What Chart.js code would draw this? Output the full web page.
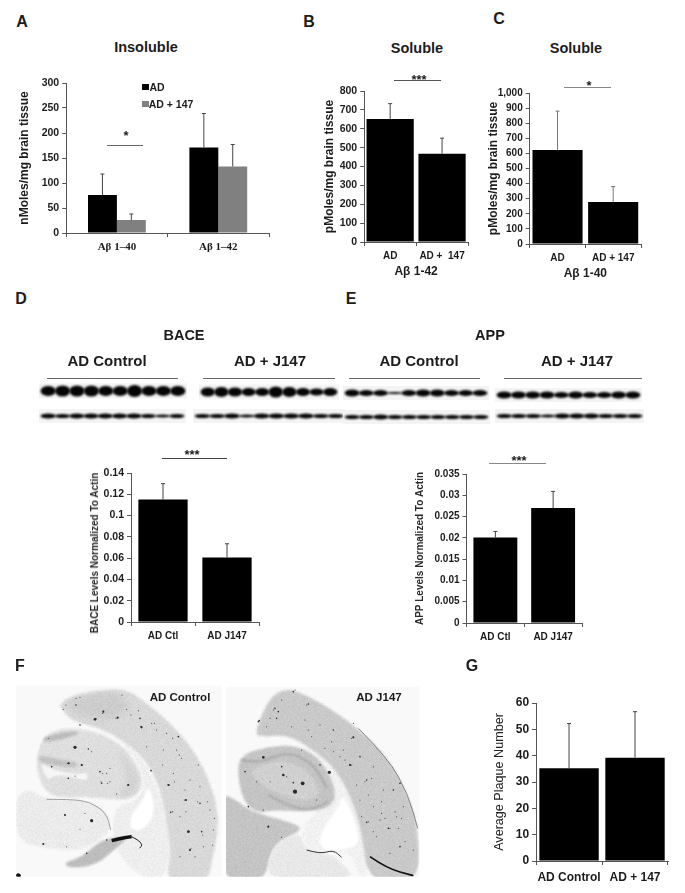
<!DOCTYPE html>
<html>
<head>
<meta charset="utf-8">
<title>J147 figure</title>
<script src="https://cdn.jsdelivr.net/npm/chart.js@4"></script>
<style>
  html, body { margin: 0; padding: 0; background: #fff; }
  #page { position: relative; width: 685px; height: 893px; overflow: hidden; font-family: "Liberation Sans", Arial, sans-serif; color: #1c1c1c; }
  canvas { position: absolute; }
  .lbl { position: absolute; white-space: nowrap; font-weight: bold; line-height: 1; }
  .rule { position: absolute; height: 1px; background: #666; }
</style>
</head>
<body>
<div id="page">
  <canvas id="blots" width="685" height="110" style="left:0;top:340px"></canvas>
  <canvas id="brains" width="440" height="243" style="left:0;top:650px"></canvas>
  <canvas id="chartA"></canvas>
  <canvas id="chartB"></canvas>
  <canvas id="chartC"></canvas>
  <canvas id="chartD"></canvas>
  <canvas id="chartE"></canvas>
  <canvas id="chartG"></canvas>
</div>
<script>
// panel A
const catsA = ["Aβ 1–40", "Aβ 1–42"];
const adA = [76, 171];
const adTopA = [118, 239];
const j147A = [26, 133];
const j147TopA = [38, 177];
const ticksA = ["0", "50", "100", "150", "200", "250", "300"];
// panel B
const catsB = ["AD", "AD +  147"];
const valsB = [652, 468];
const topsB = [733, 550];
const ticksB = ["0", "100", "200", "300", "400", "500", "600", "700", "800"];
// panel C
const catsC = ["AD", "AD + 147"];
const valsC = [622, 278];
const topsC = [880, 380];
const ticksC = ["0", "100", "200", "300", "400", "500", "600", "700", "800", "900", "1,000"];
// panel D
const catsD = ["AD Ctl", "AD J147"];
const valsD = [0.115, 0.0605];
const topsD = [0.13, 0.0735];
const ticksD = ["0", "0.02", "0.04", "0.06", "0.08", "0.1", "0.12", "0.14"];
// panel E
const catsE = ["AD Ctl", "AD J147"];
const valsE = [0.0201, 0.027];
const topsE = [0.0215, 0.0309];
const ticksE = ["0", "0.005", "0.01", "0.015", "0.02", "0.025", "0.03", "0.035"];
// panel G
const catsG = ["AD Control", "AD + 147"];
const valsG = [35.2, 39.2];
const topsG = [52.2, 56.7];
const ticksG = ["0", "10", "20", "30", "40", "50", "60"];

// blot band heights per lane, left to right
const bandsDtop1 = [10, 11, 11, 11, 10, 10, 12, 10, 10, 10];
const bandsDtop2 = [9, 10, 9, 8, 8, 11, 10, 8, 7, 8];
const bandsDlow1 = [5, 4, 5, 5, 5, 5, 5, 4, 3, 4];
const bandsDlow2 = [4, 4, 5, 3, 5, 5, 5, 5, 4, 4];
const bandsEtop1 = [7, 6, 6, 2, 6, 7, 7, 6, 6, 6];
const bandsEtop2 = [7, 7, 7, 7, 6, 7, 6, 6, 7, 7];
const bandsElow1 = [4, 4, 5, 4, 4, 4, 4, 4, 4, 4];
const bandsElow2 = [4, 4, 4, 3, 5, 5, 5, 4, 4, 4];

// plaques on the two brain sections, in 3x crop units
const plaques1 = [[285,208,5],[353,203,4],[228,165,3],[240,142,2],[366,135,2],[310,185,4],[190,178,2],[240,225,3],[420,205,3],[425,232,4],[380,178,2],[415,182,2],[470,240,2],[500,250,2],[535,260,3],[455,220,2],[225,292,6],[265,297,3],[275,305,2],[145,265,2],[205,340,4],[245,345,4],[155,350,3],[205,385,3],[225,378,2],[300,365,3],[320,370,2],[305,400,3],[330,395,2],[385,405,4],[350,432,2],[330,355,2],[453,362,3],[505,405,4],[512,487,3],[558,450,4],[600,460,3],[565,545,5],[570,600,4],[605,545,3],[630,480,2],[570,390,2],[595,345,2],[545,325,2],[520,370,2],[530,300,2],[490,300,2],[440,290,2],[640,540,2],[610,590,2],[540,500,2],[195,495,4],[275,512,6],[255,490,2],[240,538,2],[130,582,4],[200,590,2],[320,570,3],[260,610,3],[585,620,2],[540,620,2],[600,410,2],[555,420,2],[198,165,2],[228,145,2],[288,205,2],[308,190,2],[348,205,2],[423,230,3],[463,220,2],[393,195,2],[518,265,2],[538,315,2],[488,345,2],[523,395,2],[553,450,2],[508,405,2],[593,455,2],[623,455,2],[568,545,2],[573,595,2],[608,555,2],[643,505,2],[518,485,2],[558,485,2],[638,585,2],[223,290,2],[208,340,2],[248,345,2],[308,370,2],[303,395,2],[323,400,2],[383,405,2]];
const plaques2 = [[880,125,3],[925,162,3],[830,205,3],[800,230,2],[778,212,3],[820,180,2],[1060,220,2],[1060,262,4],[1000,240,3],[915,210,2],[960,225,2],[1030,300,2],[1080,320,3],[1050,345,4],[1000,305,2],[1100,390,3],[1120,350,2],[1150,420,2],[1180,420,3],[1200,400,3],[1100,517,3],[1120,470,2],[1165,535,3],[1190,500,2],[1200,590,3],[1170,610,2],[1240,600,2],[1210,470,2],[1130,560,2],[1080,450,2],[988,367,6],[960,345,3],[905,300,2],[850,375,5],[908,400,7],[885,425,8],[880,398,3],[845,350,3],[790,322,5],[735,365,3],[770,395,2],[810,395,2],[745,470,3],[805,530,4],[845,562,2],[860,380,2],[950,450,2],[790,480,2],[1085,500,2],[1145,490,2],[975,295,2],[995,275,2],[1035,330,2],[1020,320,2],[1055,345,2],[1055,265,2],[1095,395,2],[1070,405,2],[1115,385,2],[1105,515,2],[1140,510,2],[1170,535,2],[1155,505,2],[1185,485,2],[1205,505,2],[1145,455,2],[1195,535,2],[1215,575,2],[1120,545,2],[1105,435,2],[925,240,2],[935,260,2],[875,230,2],[845,150,2],[885,120,2],[920,165,2],[825,175,3],[835,185,3],[810,205,2],[775,215,3]];

const page = document.getElementById("page");

function addText(text, x, y, size, opts) {
  opts = opts || {};
  const el = document.createElement("span");
  el.className = "lbl";
  el.textContent = text;
  el.style.left = x + "px";
  el.style.top = y + "px";
  el.style.fontSize = size + "px";
  if (opts.weight) el.style.fontWeight = opts.weight;
  if (opts.color) el.style.color = opts.color;
  el.style.transform = "translate(-50%,-50%)" + (opts.rotate ? " rotate(" + opts.rotate + "deg)" : "");
  page.appendChild(el);
}

function addRule(x1, x2, y, color) {
  const el = document.createElement("div");
  el.className = "rule";
  el.style.left = x1 + "px";
  el.style.width = x2 - x1 + "px";
  el.style.top = y + "px";
  if (color) el.style.background = color;
  page.appendChild(el);
}

// whiskers go from the bar top up to the value in dataset.tops
const errorBars = {
  id: "errorBars",
  afterDatasetsDraw(chart) {
    const ctx = chart.ctx;
    chart.data.datasets.forEach((ds, i) => {
      chart.getDatasetMeta(i).data.forEach((bar, j) => {
        const yTop = chart.scales.y.getPixelForValue(ds.tops[j]);
        ctx.save();
        ctx.strokeStyle = ds.whisker || "#444";
        ctx.lineWidth = 1;
        ctx.beginPath();
        ctx.moveTo(bar.x, bar.y);
        ctx.lineTo(bar.x, yTop);
        ctx.moveTo(bar.x - 2, yTop);
        ctx.lineTo(bar.x + 2, yTop);
        ctx.stroke();
        ctx.restore();
      });
    });
  },
};

function barChart(id, c) {
  const lh = c.titleSize * 1.2;
  const left = c.titleX - lh / 2;
  const top = c.plot.top - 12;
  const right = c.plot.right + 12;
  const el = document.getElementById(id);
  el.style.left = left + "px";
  el.style.top = top + "px";
  el.width = right - left;
  el.height = c.plot.bottom + c.xHeight - top;
  return new Chart(el, {
    type: "bar",
    data: { labels: c.labels, datasets: c.datasets },
    plugins: [errorBars],
    options: {
      responsive: false,
      animation: false,
      layout: { padding: { top: 12, right: 12, left: 0, bottom: 0 } },
      plugins: { legend: { display: false }, tooltip: { enabled: false } },
      scales: {
        x: {
          offset: true,
          grid: { drawOnChartArea: false, tickLength: 4, color: "#555", offset: true },
          border: { color: "#555" },
          ticks: { color: "#1c1c1c", font: c.xFont, padding: c.xPad, maxRotation: 0, autoSkip: false },
          title: c.xTitle
            ? { display: true, text: c.xTitle, color: "#1c1c1c", font: { size: 12, weight: "bold", family: "Liberation Sans" }, padding: 0 }
            : { display: false },
          afterFit(s) { s.height = c.xHeight; },
        },
        y: {
          min: c.min,
          max: c.max,
          grid: { drawOnChartArea: false, tickLength: 4, color: "#555" },
          border: { color: "#555" },
          ticks: {
            stepSize: c.step,
            color: "#1c1c1c",
            padding: 3,
            autoSkip: false,
            font: { size: c.tickSize, weight: "bold", family: "Liberation Sans" },
            callback: (v, i) => c.ticks[i],
          },
          title: c.title
            ? { display: true, text: c.title, color: c.titleColor || "#1c1c1c", font: { size: c.titleSize, weight: c.titleWeight || "bold", family: "Liberation Sans" }, padding: 0 }
            : { display: false },
          afterFit(s) { s.width = c.plot.left - left; },
        },
      },
    },
  });
}

const boldFont = (s) => ({ size: s, weight: "bold", family: "Liberation Sans" });

barChart("chartA", {
  plot: { left: 66, right: 269, top: 83, bottom: 233.5 }, xHeight: 26, xPad: 4,
  titleX: 24, titleSize: 12, title: "nMoles/mg brain tissue",
  labels: catsA, xFont: { size: 11, weight: "bold", family: "Liberation Serif" },
  min: 0, max: 300, step: 50, ticks: ticksA, tickSize: 10.5,
  datasets: [
    { label: "AD", data: adA, tops: adTopA, backgroundColor: "#000", barPercentage: 1, categoryPercentage: 0.57 },
    { label: "AD + 147", data: j147A, tops: j147TopA, backgroundColor: "#808080", barPercentage: 1, categoryPercentage: 0.57 },
  ],
});

barChart("chartB", {
  plot: { left: 364, right: 468, top: 90.5, bottom: 241.5 }, xHeight: 37, xPad: 4, xTitle: "Aβ 1-42",
  titleX: 329, titleSize: 12, title: "pMoles/mg brain tissue",
  labels: catsB, xFont: boldFont(10),
  min: 0, max: 800, step: 100, ticks: ticksB, tickSize: 10.5,
  datasets: [{ data: valsB, tops: topsB, backgroundColor: "#000", barPercentage: 1, categoryPercentage: 0.91 }],
});

barChart("chartC", {
  plot: { left: 529.5, right: 641.5, top: 92.5, bottom: 243.5 }, xHeight: 37, xPad: 4, xTitle: "Aβ 1-40",
  titleX: 493, titleSize: 12, title: "pMoles/mg brain tissue",
  labels: catsC, xFont: boldFont(10),
  min: 0, max: 1000, step: 100, ticks: ticksC, tickSize: 10,
  datasets: [{ data: valsC, tops: topsC, whisker: "#777", backgroundColor: "#000", barPercentage: 1, categoryPercentage: 0.9 }],
});

barChart("chartD", {
  plot: { left: 131, right: 259, top: 473, bottom: 622 }, xHeight: 24, xPad: 4,
  titleX: 95, titleSize: 10,
  labels: catsD, xFont: boldFont(10),
  min: 0, max: 0.14, step: 0.02, ticks: ticksD, tickSize: 10.5,
  datasets: [{ data: valsD, tops: topsD, backgroundColor: "#000", barPercentage: 1, categoryPercentage: 0.77 }],
});
addText("BACE Levels Normalized To Actin", 95, 553, 10, { rotate: -90, color: "#2a2a2a" });

barChart("chartE", {
  plot: { left: 466.5, right: 582, top: 473.5, bottom: 622.5 }, xHeight: 24, xPad: 4,
  titleX: 420, titleSize: 10, title: "APP Levels Normalized To Actin", titleColor: "#2a2a2a",
  labels: catsE, xFont: boldFont(10),
  min: 0, max: 0.035, step: 0.005, ticks: ticksE, tickSize: 10,
  datasets: [{ data: valsE, tops: topsE, backgroundColor: "#000", barPercentage: 1, categoryPercentage: 0.76 }],
});

barChart("chartG", {
  plot: { left: 536, right: 668, top: 702.5, bottom: 860.5 }, xHeight: 27, xPad: 5,
  titleX: 499.5, titleSize: 12.6, title: "Average Plaque Number", titleWeight: "normal", titleColor: "#222",
  labels: catsG, xFont: boldFont(12),
  min: 0, max: 60, step: 10, ticks: ticksG, tickSize: 12,
  datasets: [{ data: valsG, tops: topsG, backgroundColor: "#000", barPercentage: 1, categoryPercentage: 0.9 }],
});

// panel letters
addText("A", 22, 22, 16);
addText("B", 309, 22, 16);
addText("C", 499, 19, 16);
addText("D", 21, 299, 16);
addText("E", 351, 299, 16);
addText("F", 20, 666, 16);
addText("G", 472, 666, 16);

// titles
addText("Insoluble", 146, 47, 14.5);
addText("Soluble", 417, 48, 14.5);
addText("Soluble", 576, 48, 14.5);
addText("BACE", 184, 335, 14.5);
addText("APP", 490, 335, 14.5);
addText("AD Control", 107, 360, 15);
addText("AD + J147", 270, 360, 15);
addText("AD Control", 419, 360, 15);
addText("AD + J147", 577, 360, 15);
addText("AD Control", 180, 698, 11.5);
addText("AD J147", 379, 698, 11.5);

// legend of panel A
const swatch = (x, y, color) => {
  const el = document.createElement("div");
  el.style.cssText = "position:absolute;width:7px;height:6px;left:" + x + "px;top:" + y + "px;background:" + color;
  page.appendChild(el);
};
swatch(142, 84, "#000");
swatch(142, 101, "#808080");
addText("AD", 157, 87, 10.5);
addText("AD + 147", 171, 104, 10.5);

// significance marks
addRule(107, 143, 145);
addText("*", 126, 135, 13);
addRule(394, 441, 80, "#555");
addText("***", 419, 79, 13);
addRule(564, 611, 87, "#888");
addText("*", 589, 85, 13);
addRule(162, 227, 458, "#444");
addText("***", 192, 454, 13);
addRule(489, 546, 463, "#888");
addText("***", 519, 460, 13);

// rules over the blots
addRule(47, 178, 378);
addRule(203, 335, 378);
addRule(349, 480, 378);
addRule(504, 642, 378);

// western blots, page coordinates minus canvas top
function blot(ctx, x0, x1, y, bands, boxH) {
  ctx.filter = "none";
  ctx.fillStyle = "#f4f4f4";
  ctx.fillRect(x0 - 2, y - 340 - boxH / 2, x1 - x0 + 4, boxH);
  ctx.filter = "blur(0.9px)";
  ctx.fillStyle = "#050505";
  const w = (x1 - x0) / bands.length;
  bands.forEach((h, i) => {
    ctx.beginPath();
    ctx.ellipse(x0 + w * (i + 0.5), y - 340, w * 0.53, h / 2, 0, 0, Math.PI * 2);
    ctx.fill();
  });
  ctx.filter = "none";
}
const bctx = document.getElementById("blots").getContext("2d");
blot(bctx, 41, 185, 391, bandsDtop1, 15);
blot(bctx, 201, 337, 392, bandsDtop2, 15);
blot(bctx, 41, 184, 416, bandsDlow1, 14);
blot(bctx, 195, 343, 416, bandsDlow2, 14);
blot(bctx, 345, 487, 393, bandsEtop1, 14);
blot(bctx, 497, 640, 395, bandsEtop2, 14);
blot(bctx, 345, 488, 417, bandsElow1, 14);
blot(bctx, 497, 642, 416, bandsElow2, 14);

// brain sections, drawn in 3x crop units
function blob(ctx, pts, color, blur) {
  ctx.filter = "blur(" + (blur || 1) + "px)";
  ctx.fillStyle = color;
  ctx.beginPath();
  pts.forEach((p, i) => {
    const n = pts[(i + 1) % pts.length];
    const mx = (p[0] + n[0]) / 2, my = (p[1] + n[1]) / 2;
    if (i === 0) ctx.moveTo(mx, my);
    else ctx.quadraticCurveTo(p[0], p[1], mx, my);
  });
  const f = pts[0], s = pts[1];
  ctx.quadraticCurveTo(f[0], f[1], (f[0] + s[0]) / 2, (f[1] + s[1]) / 2);
  ctx.fill();
}
function stroke(ctx, pts, color, w, blur) {
  ctx.filter = "blur(" + (blur || 0.4) + "px)";
  ctx.strokeStyle = color;
  ctx.lineWidth = w;
  ctx.beginPath();
  ctx.moveTo(pts[0][0], pts[0][1]);
  for (let i = 1; i < pts.length - 1; i++) {
    ctx.quadraticCurveTo(pts[i][0], pts[i][1], (pts[i][0] + pts[i + 1][0]) / 2, (pts[i][1] + pts[i + 1][1]) / 2);
  }
  const last = pts[pts.length - 1];
  ctx.lineTo(last[0], last[1]);
  ctx.stroke();
}
function dots(ctx, list) {
  ctx.filter = "blur(0.5px)";
  ctx.fillStyle = "#2a2a2a";
  list.forEach((p) => {
    ctx.beginPath();
    ctx.arc(p[0], p[1], p[2] * 0.8, 0, Math.PI * 2);
    ctx.fill();
  });
}
const g = document.getElementById("brains").getContext("2d");
g.scale(1 / 3, 1 / 3);
g.fillStyle = "#f9f9f9";
g.fillRect(48, 107, 617, 573);
g.fillRect(678, 110, 580, 570);

g.save();
g.beginPath();
g.rect(48, 107, 617, 573);
g.clip();
// white matter, then cortex
blob(g, [[330,245],[400,290],[470,400],[500,510],[510,610],[490,690],[420,680],[360,620],[338,560],[340,470],[420,450],[435,380],[390,300]], "#eeeeee");
blob(g, [[178,165],[208,140],[288,123],[378,115],[448,165],[528,235],[598,325],[648,445],[656,535],[638,625],[623,700],[498,700],[513,605],[498,505],[478,405],[433,325],[368,270],[288,230],[218,215],[183,175]], "#d8d8d8");
blob(g, [[190,165],[250,135],[350,125],[400,170],[340,210],[260,205]], "#cccccc", 3);
blob(g, [[443,405],[463,455],[458,505],[423,545],[388,535],[393,495],[433,445]], "#ffffff");
// lower section
blob(g, [[48,445],[78,415],[148,450],[258,450],[318,480],[333,525],[318,560],[238,605],[148,595],[48,575]], "#ebebeb");
blob(g, [[188,640],[248,620],[308,565],[388,560],[348,595],[288,645],[213,655]], "#bdbdbd");
// hippocampus
blob(g, [[108,325],[133,250],[218,230],[318,255],[388,305],[433,390],[408,445],[338,450],[263,440],[158,445],[118,395]], "#dedede");
blob(g, [[340,290],[392,340],[420,395],[400,435],[350,445],[385,400],[375,345]], "#d2d2d2", 2);
blob(g, [[118,335],[158,360],[238,375],[263,365],[263,395],[218,380],[158,375],[143,395]], "#f6f6f6");
blob(g, [[130,262],[190,245],[250,245],[190,268],[130,278]], "#bbbbbb");
blob(g, [[115,315],[170,325],[240,340],[220,355],[150,345],[115,335]], "#c2c2c2");
stroke(g, [[140,448],[210,448],[270,455],[320,490],[332,540]], "#777", 2);
stroke(g, [[335,572],[360,565],[395,560]], "#111", 10);
stroke(g, [[395,560],[415,570],[428,585],[418,595]], "#222", 3);
dots(g, plaques1);
blob(g, [[48,672],[58,668],[66,680],[48,682]], "#111", 0.5);
g.restore();

g.save();
g.beginPath();
g.rect(678, 110, 580, 570);
g.clip();
// lower section
blob(g, [[680,435],[715,455],[755,485],[900,525],[900,545],[815,585],[795,700],[660,700],[660,440]], "#c4c4c4");
blob(g, [[795,700],[815,585],[900,545],[915,595],[975,610],[1015,625],[1075,700]], "#e8e8e8");
// white matter, then cortex
blob(g, [[865,255],[935,290],[1005,355],[1060,445],[1087,545],[1105,680],[1075,680],[1055,605],[975,605],[915,595],[905,545],[925,505],[1005,445],[995,385],[955,315],[885,275]], "#f1f1f1");
blob(g, [[765,255],[780,205],[810,145],[845,120],[885,120],[975,165],[1075,235],[1165,325],[1225,435],[1255,535],[1258,700],[1105,700],[1085,545],[1055,445],[1005,355],[935,295],[865,255],[795,260]], "#c9c9c9");
blob(g, [[1025,430],[1060,495],[1080,575],[1055,595],[975,605],[955,575],[975,525],[1020,465]], "#ffffff");
// hippocampus
blob(g, [[710,345],[735,310],[805,290],[885,285],[955,320],[995,385],[1010,445],[975,480],[895,485],[825,480],[765,490],[725,445]], "#c4c4c4");
blob(g, [[740,365],[825,330],[905,345],[955,405],[955,445],[895,450],[845,435],[785,405]], "#d0d0d0");
stroke(g, [[725,330],[775,340],[845,310],[895,315],[950,355],[980,415]], "#9a9a9a", 4, 1.2);
stroke(g, [[805,435],[865,470],[935,480],[985,455]], "#a6a6a6", 5, 1.2);
stroke(g, [[1110,620],[1160,655],[1240,677]], "#111", 5);
stroke(g, [[1075,235],[1165,325],[1225,435],[1253,535]], "#555", 2);
stroke(g, [[920,600],[960,612],[1000,600],[1025,622]], "#333", 3);
dots(g, plaques2);
g.restore();

// fine grain on the tissue so the sections do not look flat
const img = g.getImageData(0, 0, 440, 243);
for (let y = 0; y < 243; y++) {
  for (let x = 0; x < 440; x++) {
    const i = (y * 440 + x) * 4;
    const v = img.data[i];
    if (v < 246 && v > 60) {
      const h = Math.sin(x * 12.9898 + y * 78.233) * 43758.5453;
      const n = (h - Math.floor(h) - 0.5) * 12;
      img.data[i] = img.data[i + 1] = img.data[i + 2] = Math.min(255, v + n);
    }
  }
}
g.putImageData(img, 0, 0);
</script>
</body>
</html>
